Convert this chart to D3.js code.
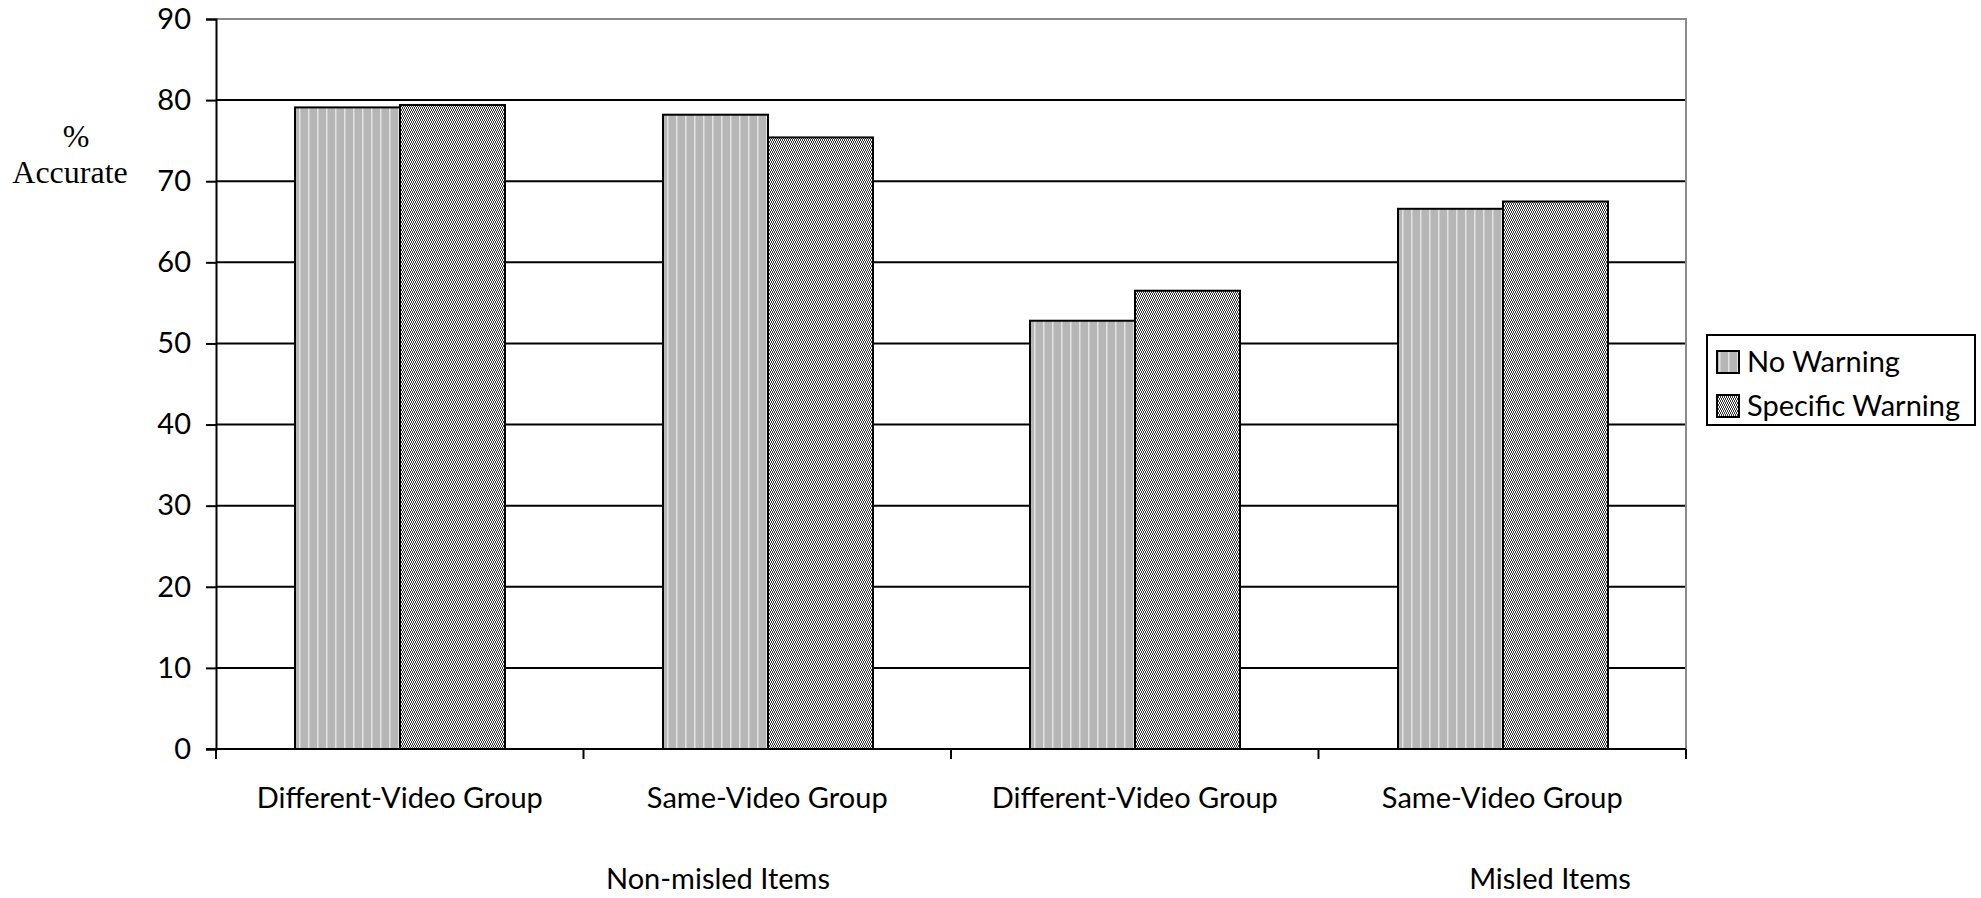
<!DOCTYPE html>
<html>
<head>
<meta charset="utf-8">
<script src="https://cdn.jsdelivr.net/npm/d3@7"></script>
<style>
  html, body { margin: 0; padding: 0; background: #fff; }
  svg { display: block; }
  text { fill: #000; }
</style>
</head>
<body>
<svg id="chart" width="1981" height="898"></svg>
<script>
// Accuracy by condition
const categories = ["Different-Video Group", "Same-Video Group", "Different-Video Group", "Same-Video Group"];
const itemGroups = ["Non-misled Items", "Misled Items"];
const seriesNames = ["No Warning", "Specific Warning"];
const noWarning = [79.1, 78.2, 52.8, 66.6];
const specificWarning = [79.4, 75.4, 56.5, 67.5];
const yTicks = [0, 10, 20, 30, 40, 50, 60, 70, 80, 90];

const svg = d3.select("#chart");
const margin = { left: 216, right: 1686, top: 19, bottom: 749 };
const sansFont = "Lato, sans-serif";
const sansSize = 29;

// patterns for the two series
const defs = svg.append("defs");
const pNW = defs.append("pattern").attr("id", "pat-nw")
  .attr("patternUnits", "userSpaceOnUse").attr("width", 9).attr("height", 4)
  .attr("shape-rendering", "crispEdges");
pNW.append("rect").attr("width", 9).attr("height", 4).attr("fill", "#b6b6b6");
pNW.append("rect").attr("x", 2).attr("width", 1).attr("height", 4).attr("fill", "#e2e2e2");
pNW.append("rect").attr("x", 3).attr("width", 1).attr("height", 4).attr("fill", "#cdcdcd");

// fine steep-diagonal weave
const pSW = defs.append("pattern").attr("id", "pat-sw")
  .attr("patternUnits", "userSpaceOnUse").attr("width", 4).attr("height", 4)
  .attr("shape-rendering", "crispEdges");
pSW.append("rect").attr("width", 4).attr("height", 4).attr("fill", "#ffffff");
const swCells = [[0,0],[2,0],[1,1],[3,1],[1,2],[3,2],[2,3],[0,3]];
swCells.forEach(([cx, cy]) => {
  pSW.append("rect").attr("x", cx).attr("y", cy).attr("width", 1).attr("height", 1).attr("fill", "#3a3a3a");
});
const fills = ["url(#pat-nw)", "url(#pat-sw)"];

const x0 = d3.scaleBand().domain(d3.range(categories.length))
  .range([margin.left, margin.right]).padding(0);
const x1 = d3.scaleBand().domain(seriesNames)
  .range([0, x0.bandwidth()]).paddingInner(0).paddingOuter(0.75);
const y = d3.scaleLinear().domain([0, 90]).range([margin.bottom, margin.top]);

// gridlines
svg.append("g").selectAll("line").data(yTicks.filter(t => t > 0 && t < 90)).join("line")
  .attr("x1", margin.left).attr("x2", margin.right)
  .attr("y1", d => y(d)).attr("y2", d => y(d))
  .attr("stroke", "#000").attr("stroke-width", 2);

// plot frame (top and right)
svg.append("path")
  .attr("d", `M${margin.left},${y(90)}H${margin.right}V${margin.bottom}`)
  .attr("fill", "none").attr("stroke", "#8a8a8a").attr("stroke-width", 2);

// bars (each group placed on whole pixels so the fill patterns stay crisp)
const rows = categories.map((c, i) => ({ i, values: [noWarning[i], specificWarning[i]] }));
const groupSel = svg.append("g").selectAll("g").data(rows).join("g")
  .attr("transform", d => `translate(${Math.round(x0(d.i))},0)`);
groupSel.selectAll("rect").data(d => d.values.map((v, k) => ({ k, v }))).join("rect")
  .attr("x", d => Math.round(x1(seriesNames[d.k])))
  .attr("width", Math.round(x1.bandwidth()))
  .attr("y", d => y(d.v))
  .attr("height", d => y(0) - y(d.v))
  .attr("fill", d => fills[d.k])
  .attr("stroke", "#000").attr("stroke-width", 2);

// y axis
const yAxis = d3.axisLeft(y).tickValues(yTicks).tickSize(10).tickPadding(15);
const gy = svg.append("g").attr("transform", `translate(${margin.left},0)`).call(yAxis);
gy.select(".domain").attr("stroke", "#000").attr("stroke-width", 2);
gy.selectAll(".tick line").attr("stroke", "#000").attr("stroke-width", 2);
gy.selectAll(".tick text").attr("font-family", sansFont).attr("font-size", sansSize).attr("fill", "#000");

// x axis with boundary ticks
const xAxisLine = svg.append("g");
xAxisLine.append("line").attr("x1", margin.left - 10).attr("x2", margin.right)
  .attr("y1", y(0)).attr("y2", y(0)).attr("stroke", "#000").attr("stroke-width", 2);
const boundaries = d3.range(categories.length + 1).map(i => margin.left + i * x0.step());
xAxisLine.selectAll("line.tk").data(boundaries).join("line").attr("class", "tk")
  .attr("x1", d => d).attr("x2", d => d).attr("y1", y(0)).attr("y2", y(0) + 10)
  .attr("stroke", "#000").attr("stroke-width", 2);

// category labels
svg.append("g").selectAll("text").data(categories).join("text")
  .attr("x", (d, i) => x0(i) + x0.bandwidth() / 2)
  .attr("y", 808)
  .attr("text-anchor", "middle")
  .attr("font-family", sansFont).attr("font-size", sansSize)
  .text(d => d);

// item group labels
const groupPos = [0.3415, 0.9075];
svg.append("g").selectAll("text").data(itemGroups).join("text")
  .attr("x", (d, i) => margin.left + groupPos[i] * (margin.right - margin.left))
  .attr("y", 889)
  .attr("text-anchor", "middle")
  .attr("font-family", sansFont).attr("font-size", sansSize)
  .text(d => d);

// y axis title
const yt = svg.append("text").attr("text-anchor", "middle")
  .attr("font-family", "'Liberation Serif', 'Times New Roman', serif").attr("font-size", 32);
yt.append("tspan").attr("x", 76).attr("y", 147).text("%");
yt.append("tspan").attr("x", 70).attr("y", 183).text("Accurate");

// legend
const lg = svg.append("g");
lg.append("rect").attr("x", 1707).attr("y", 335).attr("width", 268).attr("height", 90)
  .attr("fill", "#fff").attr("stroke", "#000").attr("stroke-width", 2);
const items = lg.selectAll("g").data(seriesNames).join("g")
  .attr("transform", (d, i) => `translate(1717,${351 + i * 44})`);
items.append("rect").attr("width", 22).attr("height", 22)
  .attr("fill", (d, i) => fills[i]).attr("stroke", "#000").attr("stroke-width", 2);
items.append("text").attr("x", 30).attr("y", 21)
  .attr("font-family", sansFont).attr("font-size", sansSize)
  .text(d => d);
</script>
</body>
</html>
